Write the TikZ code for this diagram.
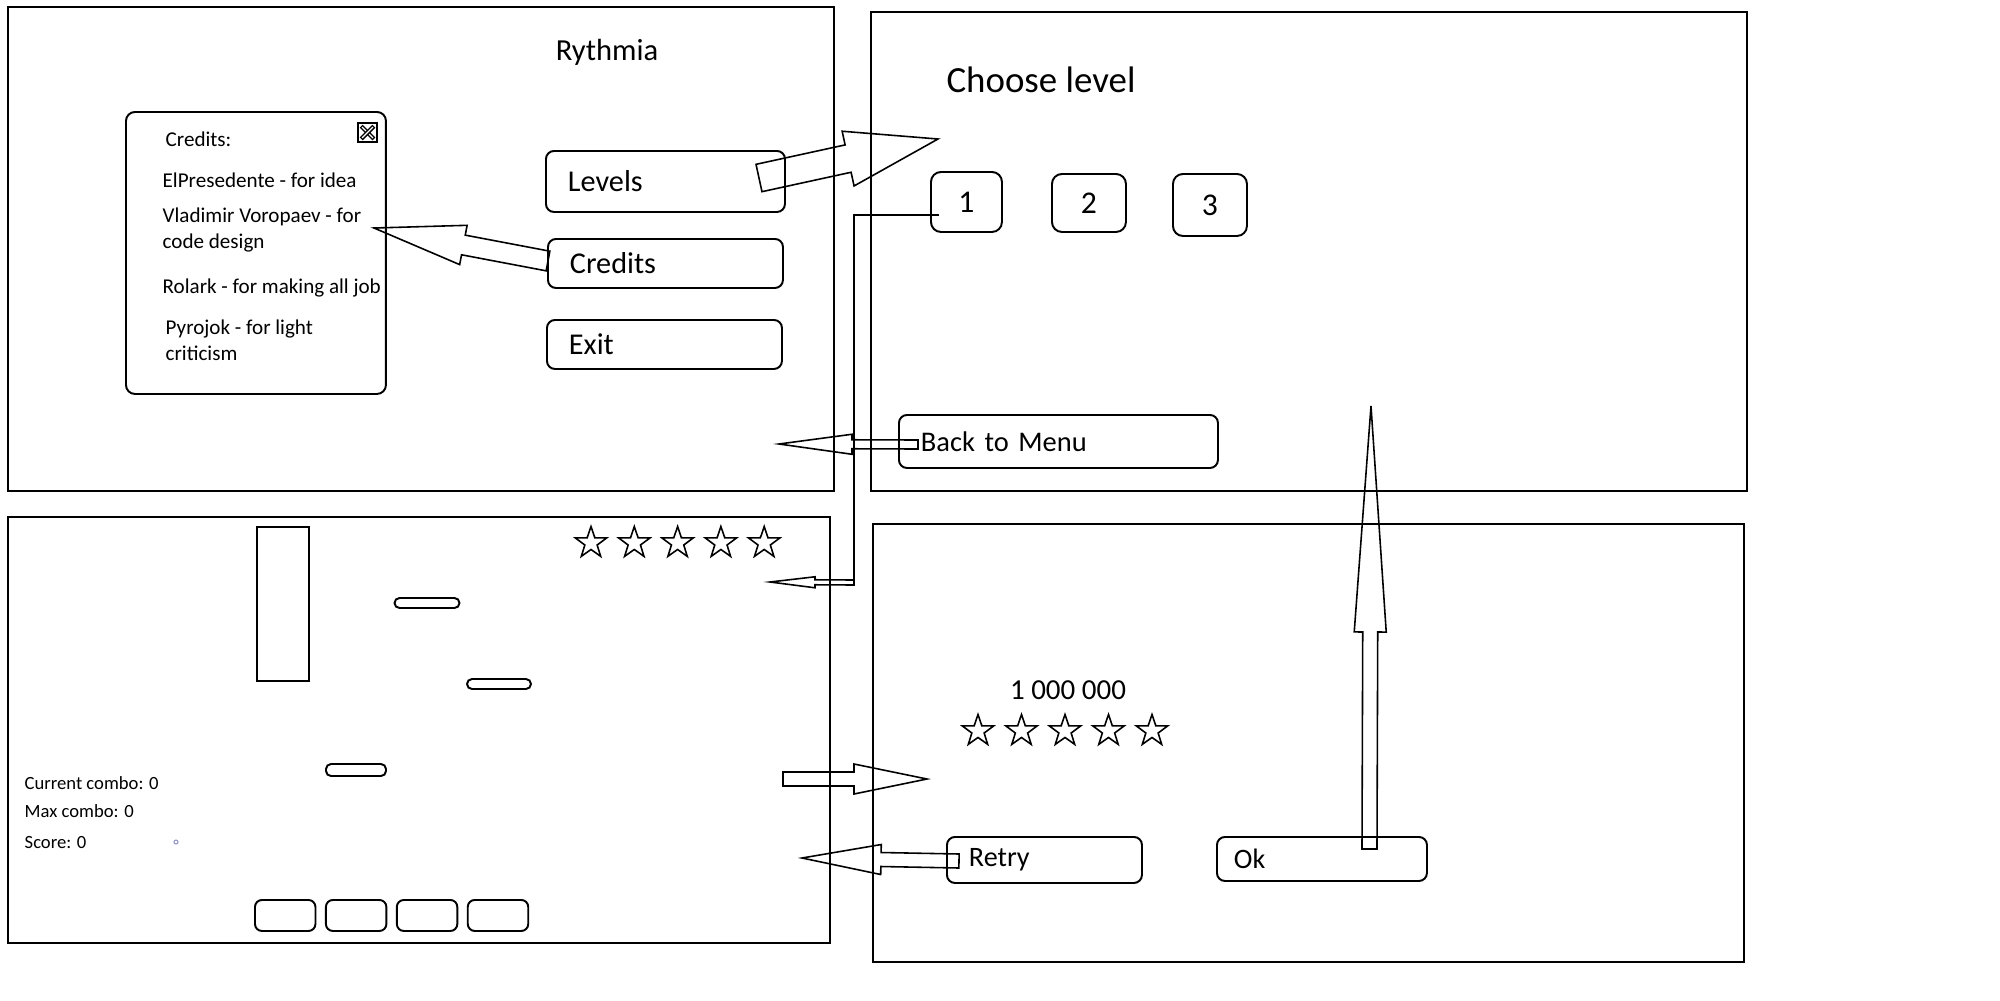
\documentclass[tikz,border=0pt]{standalone}
\usepackage{fontspec}
\setmainfont{Carlito}
\usetikzlibrary{calc, positioning, shapes.geometric}

\definecolor{dotblue}{RGB}{150,150,205}

% hollow block arrow: tail, tip, shaft half width, head half width, head length
\newcommand{\flowarrow}[5]{%
    \coordinate (fa-base) at ($(#2)!#5!(#1)$);
    \draw[blockarrow] ($(#1)!#3!90:(#2)$) -- ($(fa-base)!#3!-90:(#1)$)
        -- ($(fa-base)!#4!-90:(#1)$) -- (#2) -- ($(fa-base)!#4!90:(#1)$)
        -- ($(fa-base)!#3!90:(#1)$) -- ($(#1)!#3!-90:(#2)$) -- cycle;}

\begin{document}
\begin{tikzpicture}[
        x=0.1mm, y=-0.1mm,
        screen/.style={draw, line width=0.6pt},
        btn/.style={draw, line width=0.55pt, rounded corners=0.8mm, anchor=north west,
            align=left, inner xsep=2.2mm, inner ysep=0pt, font=\fontsize{8.6}{10}\selectfont},
        lvlbtn/.style={draw, line width=0.55pt, rounded corners=1mm, anchor=north west,
            inner sep=0pt, font=\fontsize{9}{10}\selectfont},
        key/.style={draw, line width=0.55pt, rounded corners=0.7mm, anchor=north west,
            minimum width=6.05mm, minimum height=3.1mm, inner sep=0pt},
        note/.style={draw, line width=0.55pt, rounded corners=0.5mm, inner sep=0pt},
        rstar/.style={star, star points=5, star point ratio=2.55, draw, line width=0.45pt,
            line join=miter, inner sep=0pt, minimum size=3.3mm},
        credit/.style={anchor=west, align=left, inner sep=0pt, font=\fontsize{6}{7.4}\selectfont},
        stat/.style={anchor=west, inner sep=0pt, font=\fontsize{5.3}{6}\selectfont},
        blockarrow/.style={draw, line width=0.45pt, line join=miter},
        link/.style={draw, line width=0.8pt}
    ]
    \useasboundingbox (0,0) rectangle (2000,1000);

    % Screen frames
    \coordinate (menuNW) at (8,7);       \coordinate (menuSE) at (834,491);
    \coordinate (selNW) at (871,12);     \coordinate (selSE) at (1747,491);
    \coordinate (gameNW) at (8,517);     \coordinate (gameSE) at (830,943);
    \coordinate (resNW) at (873,524);    \coordinate (resSE) at (1744,962);

    \draw[screen] (menuNW) rectangle (menuSE);
    \draw[screen] (selNW) rectangle (selSE);
    \draw[screen] (gameNW) rectangle (gameSE);
    \draw[screen] (resNW) rectangle (resSE);

    % Main menu
    \node[font=\fontsize{8.7}{10}\selectfont] (title) at (607,52) {Rythmia};

    \node[btn, text width=19.5mm, minimum height=6.1mm] (levels) at (545,150) {Levels};
    \node[btn, text width=19.1mm, minimum height=4.9mm] (credits) at (547,238) {Credits};
    \node[btn, text width=19.1mm, minimum height=4.9mm] (exit) at (546,319) {Exit};

    % Credits popup
    \node[draw, line width=0.55pt, rounded corners=0.9mm, anchor=north west,
        minimum width=26mm, minimum height=28.2mm] (popup) at (125,111) {};
    \node[draw, line width=0.6pt, anchor=north west, minimum size=1.9mm,
        inner sep=0pt] (close) at (357,122) {};
    \foreach \a/\b in {north west/south east, north east/south west} {
        \draw[line width=1.2pt] ($(close.\a)!0.2!(close.\b)$) -- ($(close.\a)!0.8!(close.\b)$);
        \draw[white, line width=0.35pt] ($(close.\a)!0.24!(close.\b)$) -- ($(close.\a)!0.76!(close.\b)$);
    }

    \node[credit] (crHead) at (165,139) {Credits:};
    \node[credit] (crIdea) at (162,180) {ElPresedente - for idea};
    \node[credit] (crCode) at (162,230) {Vladimir Voropaev - for\\code design};
    \node[credit] (crJob) at (162,288) {Rolark - for making all job};
    \node[credit] (crCrit) at (165,340) {Pyrojok - for light\\criticism};

    % Level select
    \node[font=\fontsize{10.5}{12}\selectfont] (choose) at (1041,80) {Choose level};

    \node[lvlbtn, minimum width=7.1mm, minimum height=6mm] (lvl1) at (930,171) {1};
    \node[lvlbtn, minimum width=7.4mm, minimum height=5.8mm] (lvl2) at (1051,173) {2};
    \node[lvlbtn, minimum width=7.4mm, minimum height=6.2mm] (lvl3) at (1172,173) {3};

    \node[btn, text width=27.5mm, minimum height=5.3mm,
        font=\fontsize{8.1}{10}\selectfont] (back) at (898,414) {Back to Menu};

    % Game screen
    \draw[line width=0.55pt] (257,527) rectangle (309,681);

    \node[note, minimum width=6.5mm, minimum height=1mm] (note1) at (427,603) {};
    \node[note, minimum width=6.4mm, minimum height=1mm] (note2) at (499,684) {};
    \node[note, minimum width=6mm, minimum height=1.2mm] (note3) at (356,770) {};

    \foreach \i in {1,...,5}
        \node[rstar] (gstar\i) at (591+43.3*\i-43.3,543) {};

    \node[stat] (combo) at (24,783) {Current combo: 0};
    \node[stat] (maxcombo) at (24,811) {Max combo: 0};
    \node[stat] (score) at (24,843) {Score: 0};
    \draw[dotblue, line width=0.3pt] (176,842) circle (2);

    \node[key] (key1) at (254,899) {};
    \node[key, right=0.85mm of key1] (key2) {};
    \node[key, right=0.85mm of key2] (key3) {};
    \node[key, right=0.85mm of key3] (key4) {};

    % Results screen
    \node[font=\fontsize{8.25}{10}\selectfont] (points) at (1068,690) {1 000 000};

    \foreach \i in {1,...,5}
        \node[rstar] (rstar\i) at (978+43.5*\i-43.5,731) {};

    \node[btn, text width=15.1mm, minimum height=4.6mm,
        font=\fontsize{8}{10}\selectfont] (retry) at (946,836) {Retry};
    \node[btn, inner xsep=1.7mm, text width=17.6mm, minimum height=4.4mm,
        font=\fontsize{8}{10}\selectfont] (ok) at (1216,836) {Ok};

    % Transitions
    \coordinate (levelsTail) at (759,178);  \coordinate (levelsTip) at (938,139);
    \coordinate (creditsTail) at (548,261); \coordinate (creditsTip) at (374,228);
    \coordinate (backTail) at (918,444.5);  \coordinate (backTip) at (779,444);
    \coordinate (lvlTap) at (939,215);      \coordinate (gameTap) at (854,585);
    \coordinate (gameTail) at (854,582.5);  \coordinate (gameTip) at (770,582);
    \coordinate (endTail) at (783,779);     \coordinate (endTip) at (927,779);
    \coordinate (retryTail) at (959,861);   \coordinate (retryTip) at (802,858);
    \coordinate (okTail) at (1369.5,849);   \coordinate (okTip) at (1371,406);

    \flowarrow{levelsTail}{levelsTip}{1.4mm}{2.8mm}{9.2mm}
    \flowarrow{creditsTail}{creditsTip}{1mm}{2mm}{9.1mm}
    \flowarrow{backTail}{backTip}{0.45mm}{1mm}{7.3mm}

    \draw[link] (lvlTap) -| (gameTap);
    \flowarrow{gameTail}{gameTip}{0.25mm}{0.55mm}{4.5mm}

    \flowarrow{endTail}{endTip}{0.7mm}{1.5mm}{7.3mm}
    \flowarrow{retryTail}{retryTip}{0.7mm}{1.5mm}{7.9mm}
    \flowarrow{okTail}{okTip}{0.75mm}{1.6mm}{22.6mm}

\end{tikzpicture}
\end{document}
